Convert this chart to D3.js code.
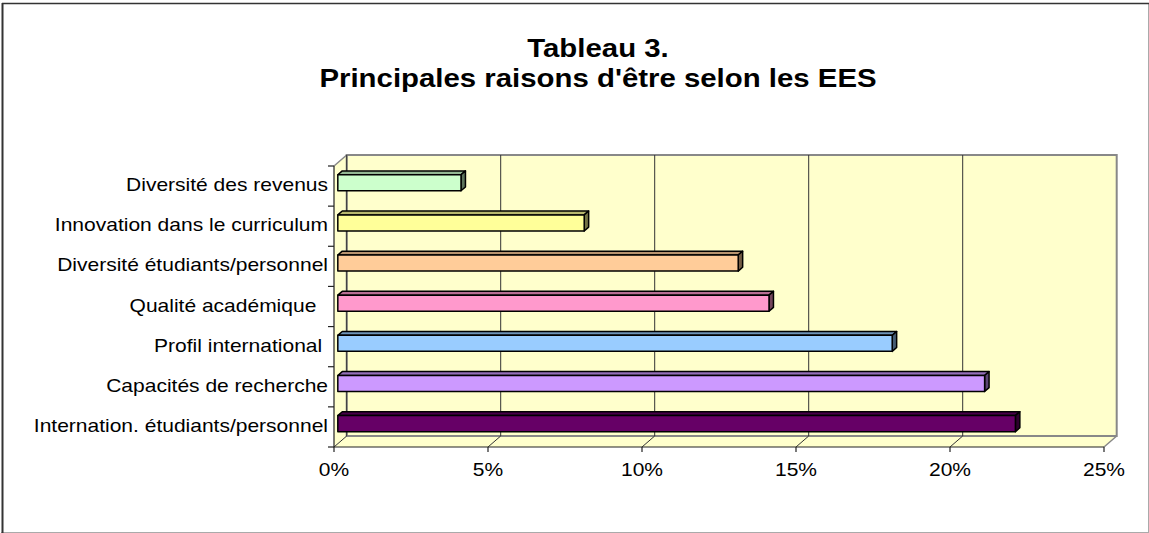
<!DOCTYPE html>
<html>
<head>
<meta charset="utf-8">
<script src="https://cdn.jsdelivr.net/npm/d3@7"></script>
<style>
  body { margin: 0; background: #fff; }
  svg { display: block; }
  text { font-family: Arial, "Liberation Sans", sans-serif; white-space: pre; }
</style>
</head>
<body>
<div id="chart"></div>
<script>
// data, bottom to top
const categories = [
  "Internation. étudiants/personnel",
  "Capacités de recherche",
  "Profil international ",
  "Qualité académique  ",
  "Diversité étudiants/personnel",
  "Innovation dans le curriculum",
  "Diversité des revenus"
];
const values = [0.22, 0.21, 0.18, 0.14, 0.13, 0.08, 0.04];
const barColors = ["#660066", "#CC99FF", "#99CCFF", "#FF99CC", "#FFCC99", "#FFFF99", "#CCFFCC"];
const xTicks = [0, 0.05, 0.10, 0.15, 0.20, 0.25];
const titleLines = ["Tableau 3.", "Principales raisons d'être selon les EES"];

const width = 1149, height = 533;
const stretch = 1.13; // the original text is a bit wider than plain Arial

// front plane of the 3d box and the depth offset
const pLeft = 334, pRight = 1104, pTop = 166, pBottom = 447;
const dx = 12.7, dy = -11;
const f1 = 0.3, f2 = 0.65; // bar depth, as fractions of the box depth

const svg = d3.select("#chart").append("svg")
  .attr("width", width)
  .attr("height", height);

const x = d3.scaleLinear().domain([0, 0.25]).range([pLeft, pRight]);
const y = d3.scaleBand().domain(categories).range([pBottom, pTop])
  .paddingInner(0.6).paddingOuter(0.3);

function label(g, str, px, py, size, anchor, weight) {
  return g.append("text")
    .attr("transform", `translate(${px},${py}) scale(${stretch},1)`)
    .attr("text-anchor", anchor)
    .attr("font-size", size)
    .attr("font-weight", weight || "normal")
    .attr("fill", "#000")
    .text(str);
}

function shade(c, k) {
  const r = d3.rgb(c);
  return d3.rgb(r.r * k, r.g * k, r.b * k).toString();
}

// outer frame
svg.append("line").attr("x1", 1).attr("x2", 1148).attr("y1", 532.5).attr("y2", 532.5).attr("stroke", "#aaa");
svg.append("line").attr("x1", 1148.5).attr("x2", 1148.5).attr("y1", 3).attr("y2", 533).attr("stroke", "#aaa");
svg.append("line").attr("x1", 2).attr("x2", 1149).attr("y1", 3.5).attr("y2", 3.5).attr("stroke", "#333").attr("stroke-width", 1.5);
svg.append("line").attr("x1", 2.5).attr("x2", 2.5).attr("y1", 3).attr("y2", 533).attr("stroke", "#333").attr("stroke-width", 2);

// title
titleLines.forEach((t, i) => label(svg, t, 598, 57 + i * 30, 26, "middle", "bold"));

// walls
const wall = "#FFFFCC", wallEdge = "#888";
svg.append("polygon")
  .attr("points", [[pLeft, pTop], [pLeft + dx, pTop + dy], [pLeft + dx, pBottom + dy], [pLeft, pBottom]].join(" "))
  .attr("fill", wall).attr("stroke", "none");
svg.append("polygon")
  .attr("points", [[pLeft, pBottom], [pRight, pBottom], [pRight + dx, pBottom + dy], [pLeft + dx, pBottom + dy]].join(" "))
  .attr("fill", wall).attr("stroke", "none");
svg.append("rect")
  .attr("x", pLeft + dx).attr("y", pTop + dy)
  .attr("width", pRight - pLeft).attr("height", pBottom - pTop)
  .attr("fill", wall).attr("stroke", wallEdge).attr("stroke-width", 2);
svg.append("path")
  .attr("d", `M${pLeft},${pTop}L${pLeft + dx},${pTop + dy}M${pRight},${pBottom}L${pRight + dx},${pBottom + dy}`)
  .attr("stroke", wallEdge).attr("stroke-width", 1.5).attr("fill", "none");

// gridlines on back wall and floor
const grid = svg.append("g").attr("stroke", "#333").attr("stroke-width", 1).attr("fill", "none");
grid.selectAll("path").data(xTicks.slice(0, -1)).join("path")
  .attr("d", d => `M${x(d)},${pBottom}L${x(d) + dx},${pBottom + dy}L${x(d) + dx},${pTop + dy}`);

// axes
const ax = svg.append("g").attr("stroke", "#222").attr("stroke-width", 1.2).attr("fill", "none");
ax.append("path").attr("d", `M${pLeft},${pTop}L${pLeft},${pBottom}L${pRight},${pBottom}`);
const step = y.step();
const catEdges = d3.range(categories.length + 1).map(i => pBottom - i * step);
ax.selectAll(".ytick").data(catEdges).join("line")
  .attr("x1", pLeft - 6).attr("x2", pLeft).attr("y1", d => d).attr("y2", d => d);
ax.selectAll(".xtick").data(xTicks).join("line")
  .attr("x1", d => x(d)).attr("x2", d => x(d)).attr("y1", pBottom).attr("y2", pBottom + 5);

// bars
const bw = y.bandwidth();
const bars = svg.append("g").attr("stroke", "#000").attr("stroke-width", 1.5).attr("stroke-linejoin", "round");
categories.forEach((c, i) => {
  const x0 = x(0) + f1 * dx, x1 = x(values[i]) + f1 * dx;
  const y0 = y(c) + f1 * dy, y1 = y0 + bw;
  const ox = (f2 - f1) * dx, oy = (f2 - f1) * dy;
  const g = bars.append("g");
  g.append("polygon")
    .attr("points", [[x0, y0], [x0 + ox, y0 + oy], [x1 + ox, y0 + oy], [x1, y0]].join(" "))
    .attr("fill", shade(barColors[i], 0.72));
  g.append("polygon")
    .attr("points", [[x1, y0], [x1 + ox, y0 + oy], [x1 + ox, y1 + oy], [x1, y1]].join(" "))
    .attr("fill", shade(barColors[i], 0.45));
  g.append("rect")
    .attr("x", x0).attr("y", y0).attr("width", x1 - x0).attr("height", bw)
    .attr("fill", barColors[i]);
});

// category labels
categories.forEach(c => {
  label(svg, c, 328, y(c) + bw / 2 + 5, 18.6, "end");
});

// x tick labels
xTicks.forEach(t => label(svg, d3.format(".0%")(t), x(t), 476, 18.6, "middle"));
</script>
</body>
</html>
